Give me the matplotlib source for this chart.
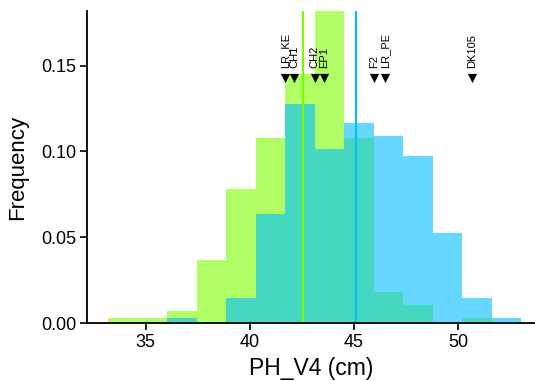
import numpy as np
import matplotlib.pyplot as plt

plt.rcParams["font.family"] = ["Liberation Sans", "DejaVu Sans"]

# histogram bins (shared by both groups), density heights
bin_edges = [33.22, 34.64, 36.05, 37.47, 38.88, 40.30, 41.71, 43.13,
             44.54, 45.96, 47.37, 48.79, 50.20, 51.62, 53.03]
green_freq = [0.003, 0.003, 0.0069, 0.0368, 0.078, 0.1077, 0.145, 0.19,
              0.1077, 0.0179, 0.0104, 0.0, 0.003, 0.0]
blue_freq = [0.0, 0.0, 0.003, 0.0, 0.0146, 0.0634, 0.1278, 0.1012,
             0.1163, 0.1087, 0.0974, 0.0522, 0.0146, 0.003]
green_mean = 42.58
blue_mean = 45.11

# parental / check lines
line_names = ["LR_KE", "CH1", "CH2", "EP1", "F2", "LR_PE", "DK105"]
line_values = [41.69, 42.15, 43.13, 43.59, 45.96, 46.52, 50.69]

edges = np.array(bin_edges)
widths = np.diff(edges)

fig = plt.figure(figsize=(5.35, 3.81), dpi=100)
ax = fig.add_axes([0.163, 0.152, 0.837, 0.818])

ax.bar(edges[:-1], green_freq, width=widths, align="edge",
       color="#7CFC00", alpha=0.6, linewidth=0)
ax.bar(edges[:-1], blue_freq, width=widths, align="edge",
       color="#00BFFF", alpha=0.6, linewidth=0)
ax.axvline(green_mean, color="#7CFC00", lw=1.5)
ax.axvline(blue_mean, color="#00BFFF", lw=1.5)

ax.scatter(line_values, [0.1428] * len(line_values), marker="v",
           color="black", s=44, zorder=5, linewidths=0)
for name, v in zip(line_names, line_values):
    ax.text(v, 0.1485, name, rotation=90, ha="center", va="bottom",
            fontsize=8, color="black")

ax.set_xlim(32.2, 53.7)
ax.set_ylim(0, 0.1815)
ax.set_xticks([35, 40, 45, 50])
ax.set_yticks([0.0, 0.05, 0.10, 0.15])
ax.set_yticklabels(["0.00", "0.05", "0.10", "0.15"])

for s in ["top", "right"]:
    ax.spines[s].set_visible(False)
for s in ["left", "bottom"]:
    ax.spines[s].set_linewidth(1.3)
ax.tick_params(axis="both", direction="out", length=5, width=1.2,
               labelsize=13, colors="black", pad=3)
ax.set_xlabel("PH_V4 (cm)", fontsize=16.5, labelpad=4)
ax.set_ylabel("Frequency", fontsize=16, labelpad=9)

fig.savefig("out.png", dpi=100)
